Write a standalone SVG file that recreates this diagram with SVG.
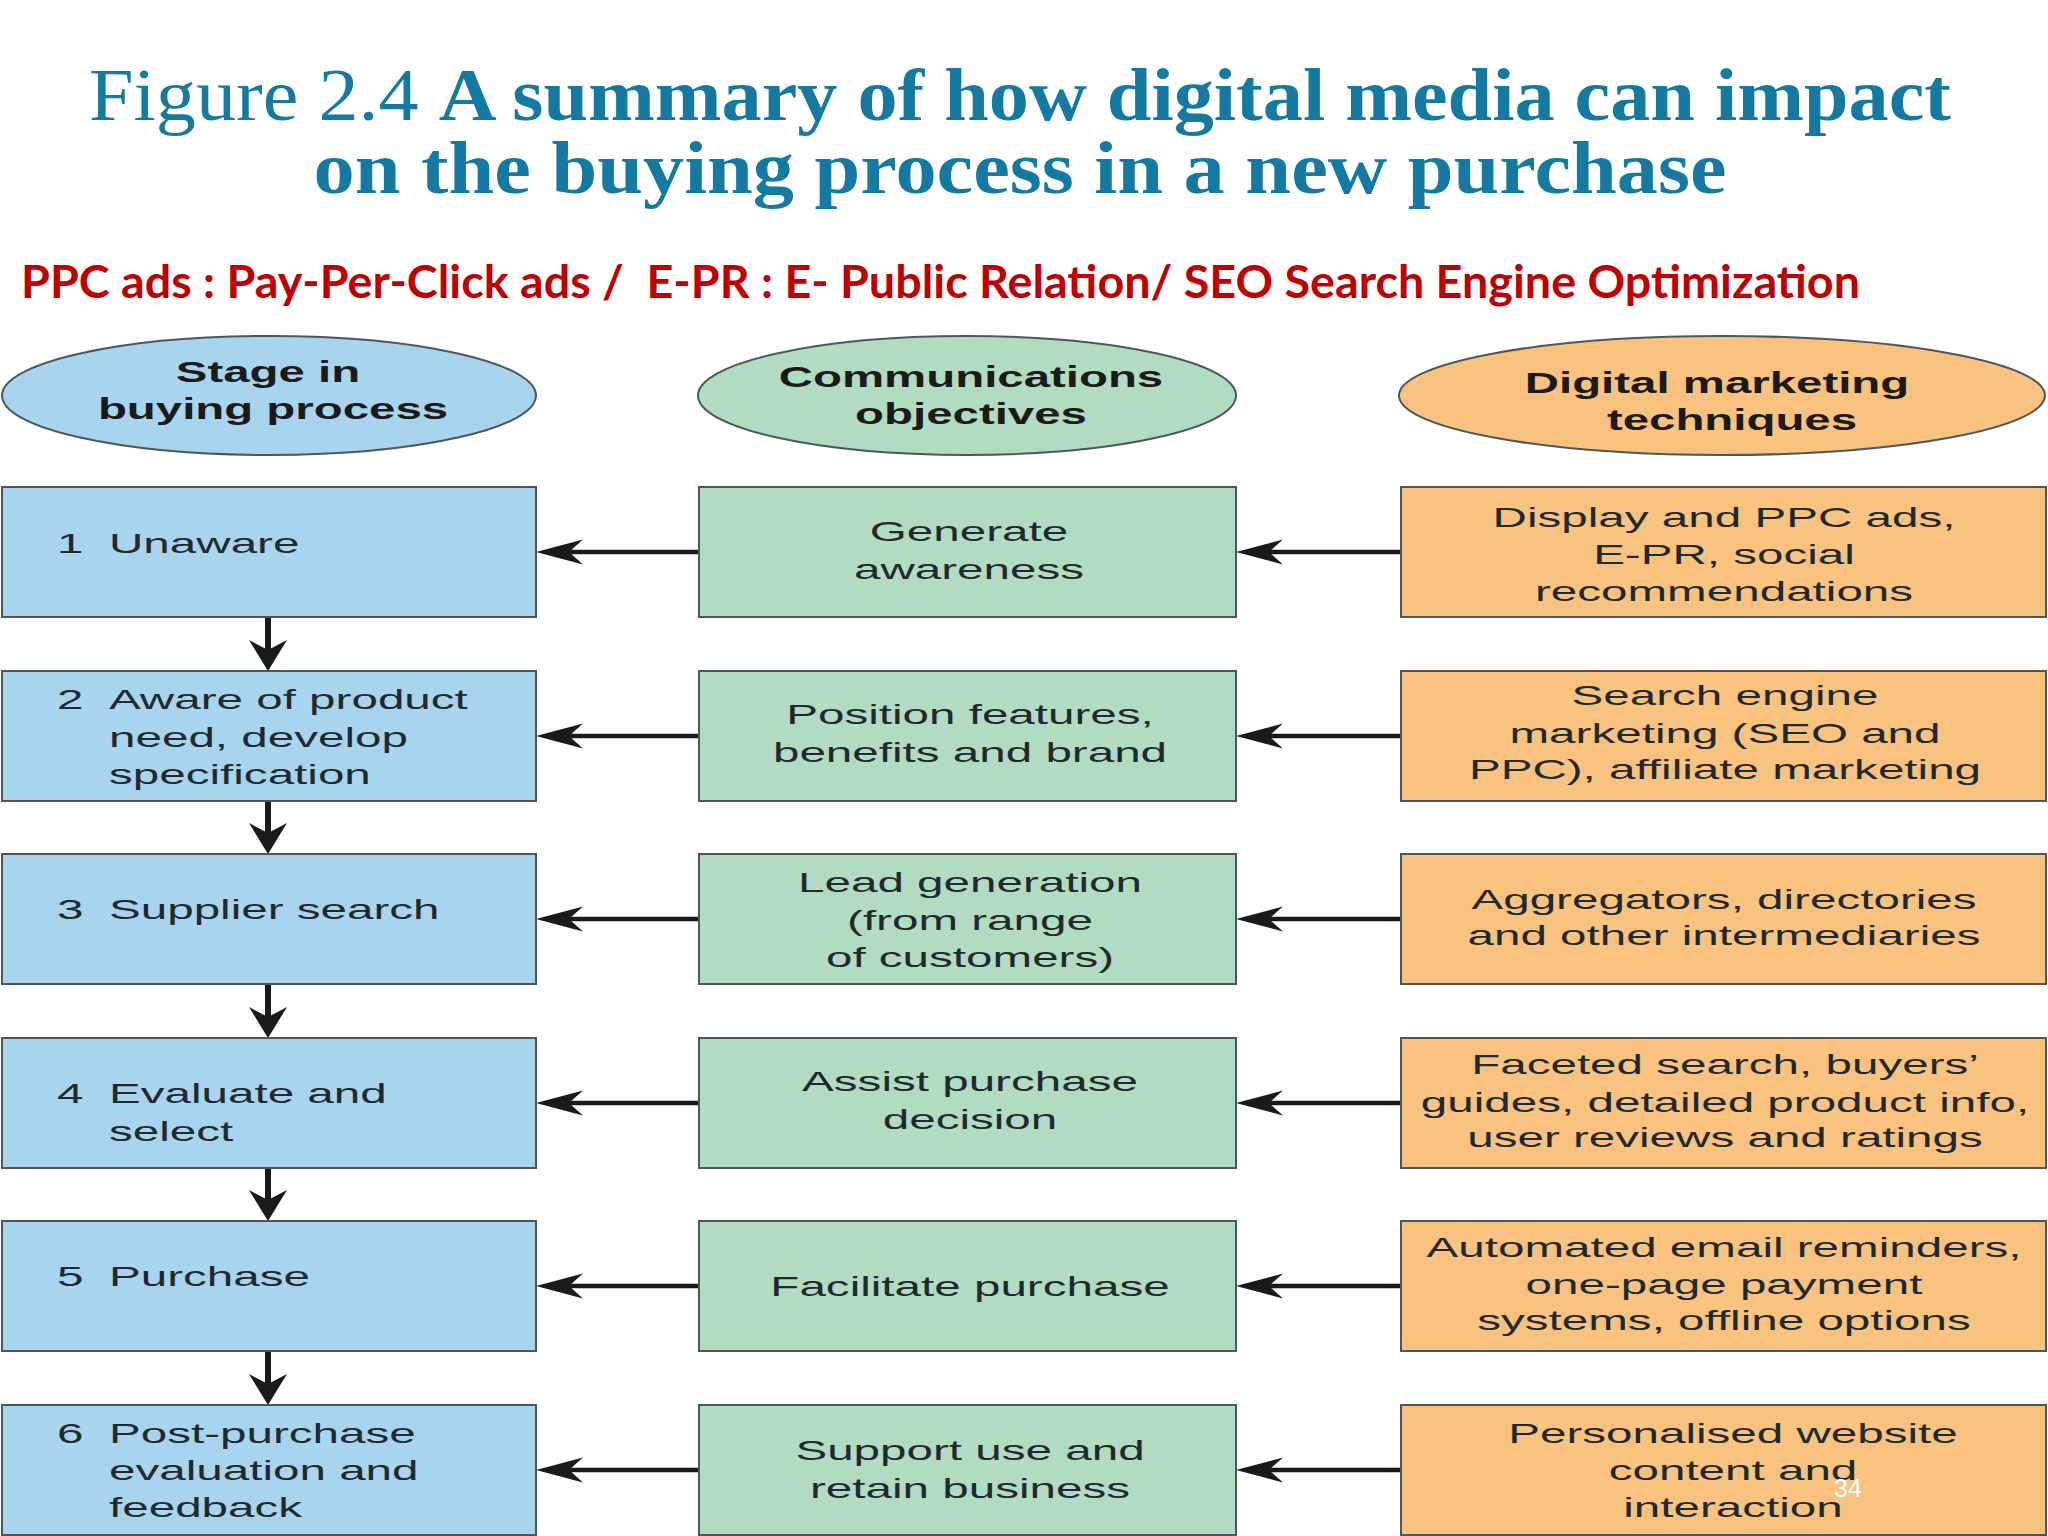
<svg xmlns="http://www.w3.org/2000/svg" width="2048" height="1536" viewBox="0 0 2048 1536">
<defs>
<style>
.title{font-family:"Liberation Serif","Times New Roman",serif;font-size:74px;fill:#147AA2;text-anchor:middle}
.b{font-weight:bold}
.note{font-family:Lato,"Liberation Sans",Arial,sans-serif;font-weight:bold;font-size:46px;fill:#C00000}
.hdr{font-family:"Liberation Sans",Arial,sans-serif;font-weight:bold;font-size:30px;fill:#1b1b1b;text-anchor:middle}
.t{font-family:"Liberation Sans",Arial,sans-serif;font-size:28px;fill:#1e2a30}
.c{text-anchor:middle}
.box{stroke:#4a585e;stroke-width:2}
.blue{fill:#A9D4EE}
.green{fill:#B1DCC1}
.orange{fill:#F9C27F}
.conn{stroke:#1a1a1a;fill:none}
.h{stroke-width:4.5;marker-end:url(#ah)}
.v{stroke-width:6;marker-end:url(#av)}
.pg{font-family:"Liberation Sans",Arial,sans-serif;font-size:25px;fill:#ffffff}
</style>
<marker id="ah" markerUnits="userSpaceOnUse" orient="auto" refX="0" refY="0" markerWidth="60" markerHeight="40" overflow="visible">
<path d="M20,0 L-27,-12.5 L-13,0 L-27,12.5 Z" fill="#1a1a1a"/>
</marker>
<marker id="av" markerUnits="userSpaceOnUse" orient="auto" refX="0" refY="0" markerWidth="60" markerHeight="40" overflow="visible">
<path d="M12,0 L-19,-19 L-9,0 L-19,19 Z" fill="#1a1a1a"/>
</marker>
</defs>
<rect width="2048" height="1536" fill="#ffffff"/>

<g id="title">
<text class="title" x="1020" y="120" textLength="1862" lengthAdjust="spacingAndGlyphs"><tspan>Figure 2.4 </tspan><tspan class="b">A summary of how digital media can impact</tspan></text>
<text class="title b" x="1020" y="193" textLength="1413" lengthAdjust="spacingAndGlyphs">on the buying process in a new purchase</text>
</g>
<g id="note">
<text class="note" x="21" y="298" textLength="1839" lengthAdjust="spacingAndGlyphs" xml:space="preserve">PPC ads : Pay-Per-Click ads /  E-PR : E- Public Relation/ SEO Search Engine Optimization</text>
</g>

<g id="connectors">
<path class="conn h" d="M1401,552 L1256,552"/>
<path class="conn h" d="M1401,736 L1256,736"/>
<path class="conn h" d="M1401,919 L1256,919"/>
<path class="conn h" d="M1401,1103 L1256,1103"/>
<path class="conn h" d="M1401,1286 L1256,1286"/>
<path class="conn h" d="M1401,1470 L1256,1470"/>
<path class="conn h" d="M699,552 L556,552"/>
<path class="conn h" d="M699,736 L556,736"/>
<path class="conn h" d="M699,919 L556,919"/>
<path class="conn h" d="M699,1103 L556,1103"/>
<path class="conn h" d="M699,1286 L556,1286"/>
<path class="conn h" d="M699,1470 L556,1470"/>
<path class="conn v" d="M268,617 L268,659"/>
<path class="conn v" d="M268,801 L268,842"/>
<path class="conn v" d="M268,984 L268,1026"/>
<path class="conn v" d="M268,1168 L268,1209"/>
<path class="conn v" d="M268,1351 L268,1393"/>
</g>

<g id="hdr-stage">
<ellipse class="box blue" cx="269" cy="395.5" rx="267" ry="59.5"/>
<text class="hdr" transform="translate(268,382) scale(1.58,1)">Stage in</text>
<text class="hdr" transform="translate(273,419) scale(1.58,1)">buying process</text>
</g>
<g id="hdr-comm">
<ellipse class="box green" cx="967" cy="395.5" rx="269" ry="59.5"/>
<text class="hdr" transform="translate(971,387) scale(1.58,1)">Communications</text>
<text class="hdr" transform="translate(971,424) scale(1.58,1)">objectives</text>
</g>
<g id="hdr-digital">
<ellipse class="box orange" cx="1722" cy="395.5" rx="323" ry="59.5"/>
<text class="hdr" transform="translate(1717,393) scale(1.58,1)">Digital marketing</text>
<text class="hdr" transform="translate(1732,430) scale(1.58,1)">techniques</text>
</g>

<g id="stage1">
<rect class="box blue" x="2" y="487" width="534" height="130"/>
<text class="t" transform="translate(57,553) scale(1.7,1)">1</text>
<text class="t" transform="translate(109,553) scale(1.7,1)">Unaware</text>
</g>
<g id="stage2">
<rect class="box blue" x="2" y="671" width="534" height="130"/>
<text class="t" transform="translate(57,709) scale(1.7,1)">2</text>
<text class="t" transform="translate(109,709) scale(1.7,1)">Aware of product</text>
<text class="t" transform="translate(109,747) scale(1.7,1)">need, develop</text>
<text class="t" transform="translate(109,784) scale(1.7,1)">specification</text>
</g>
<g id="stage3">
<rect class="box blue" x="2" y="854" width="534" height="130"/>
<text class="t" transform="translate(57,919) scale(1.7,1)">3</text>
<text class="t" transform="translate(109,919) scale(1.7,1)">Supplier search</text>
</g>
<g id="stage4">
<rect class="box blue" x="2" y="1038" width="534" height="130"/>
<text class="t" transform="translate(57,1103) scale(1.7,1)">4</text>
<text class="t" transform="translate(109,1103) scale(1.7,1)">Evaluate and</text>
<text class="t" transform="translate(109,1141) scale(1.7,1)">select</text>
</g>
<g id="stage5">
<rect class="box blue" x="2" y="1221" width="534" height="130"/>
<text class="t" transform="translate(57,1286) scale(1.7,1)">5</text>
<text class="t" transform="translate(109,1286) scale(1.7,1)">Purchase</text>
</g>
<g id="stage6">
<rect class="box blue" x="2" y="1405" width="534" height="130"/>
<text class="t" transform="translate(57,1443) scale(1.7,1)">6</text>
<text class="t" transform="translate(109,1443) scale(1.7,1)">Post-purchase</text>
<text class="t" transform="translate(109,1480) scale(1.7,1)">evaluation and</text>
<text class="t" transform="translate(109,1517) scale(1.7,1)">feedback</text>
</g>

<g id="obj1">
<rect class="box green" x="699" y="487" width="537" height="130"/>
<text class="t c" transform="translate(969,541) scale(1.7,1)">Generate</text>
<text class="t c" transform="translate(969,579) scale(1.7,1)">awareness</text>
</g>
<g id="obj2">
<rect class="box green" x="699" y="671" width="537" height="130"/>
<text class="t c" transform="translate(970,724) scale(1.7,1)">Position features,</text>
<text class="t c" transform="translate(970,762) scale(1.7,1)">benefits and brand</text>
</g>
<g id="obj3">
<rect class="box green" x="699" y="854" width="537" height="130"/>
<text class="t c" transform="translate(970,892) scale(1.7,1)">Lead generation</text>
<text class="t c" transform="translate(970,930) scale(1.7,1)">(from range</text>
<text class="t c" transform="translate(970,967) scale(1.7,1)">of customers)</text>
</g>
<g id="obj4">
<rect class="box green" x="699" y="1038" width="537" height="130"/>
<text class="t c" transform="translate(970,1091) scale(1.7,1)">Assist purchase</text>
<text class="t c" transform="translate(970,1129) scale(1.7,1)">decision</text>
</g>
<g id="obj5">
<rect class="box green" x="699" y="1221" width="537" height="130"/>
<text class="t c" transform="translate(970,1296) scale(1.7,1)">Facilitate purchase</text>
</g>
<g id="obj6">
<rect class="box green" x="699" y="1405" width="537" height="130"/>
<text class="t c" transform="translate(970,1460) scale(1.7,1)">Support use and</text>
<text class="t c" transform="translate(970,1498) scale(1.7,1)">retain business</text>
</g>

<g id="tech1">
<rect class="box orange" x="1401" y="487" width="645" height="130"/>
<text class="t c" transform="translate(1724,527) scale(1.7,1)">Display and PPC ads,</text>
<text class="t c" transform="translate(1724,564) scale(1.7,1)">E-PR, social</text>
<text class="t c" transform="translate(1724,601) scale(1.7,1)">recommendations</text>
</g>
<g id="tech2">
<rect class="box orange" x="1401" y="671" width="645" height="130"/>
<text class="t c" transform="translate(1725,705) scale(1.7,1)">Search engine</text>
<text class="t c" transform="translate(1725,743) scale(1.7,1)">marketing (SEO and</text>
<text class="t c" transform="translate(1725,779) scale(1.7,1)">PPC), affiliate marketing</text>
</g>
<g id="tech3">
<rect class="box orange" x="1401" y="854" width="645" height="130"/>
<text class="t c" transform="translate(1724,909) scale(1.7,1)">Aggregators, directories</text>
<text class="t c" transform="translate(1724,945) scale(1.7,1)">and other intermediaries</text>
</g>
<g id="tech4">
<rect class="box orange" x="1401" y="1038" width="645" height="130"/>
<text class="t c" transform="translate(1725,1074) scale(1.7,1)">Faceted search, buyers’</text>
<text class="t c" transform="translate(1725,1112) scale(1.7,1)">guides, detailed product info,</text>
<text class="t c" transform="translate(1725,1147) scale(1.7,1)">user reviews and ratings</text>
</g>
<g id="tech5">
<rect class="box orange" x="1401" y="1221" width="645" height="130"/>
<text class="t c" transform="translate(1724,1257) scale(1.7,1)">Automated email reminders,</text>
<text class="t c" transform="translate(1724,1294) scale(1.7,1)">one-page payment</text>
<text class="t c" transform="translate(1724,1330) scale(1.7,1)">systems, offline options</text>
</g>
<g id="tech6">
<rect class="box orange" x="1401" y="1405" width="645" height="130"/>
<text class="t c" transform="translate(1733,1443) scale(1.7,1)">Personalised website</text>
<text class="t c" transform="translate(1733,1480) scale(1.7,1)">content and</text>
<text class="t c" transform="translate(1733,1517) scale(1.7,1)">interaction</text>
</g>

<g id="page">
<text class="pg" x="1834" y="1497">34</text>
</g>
</svg>
